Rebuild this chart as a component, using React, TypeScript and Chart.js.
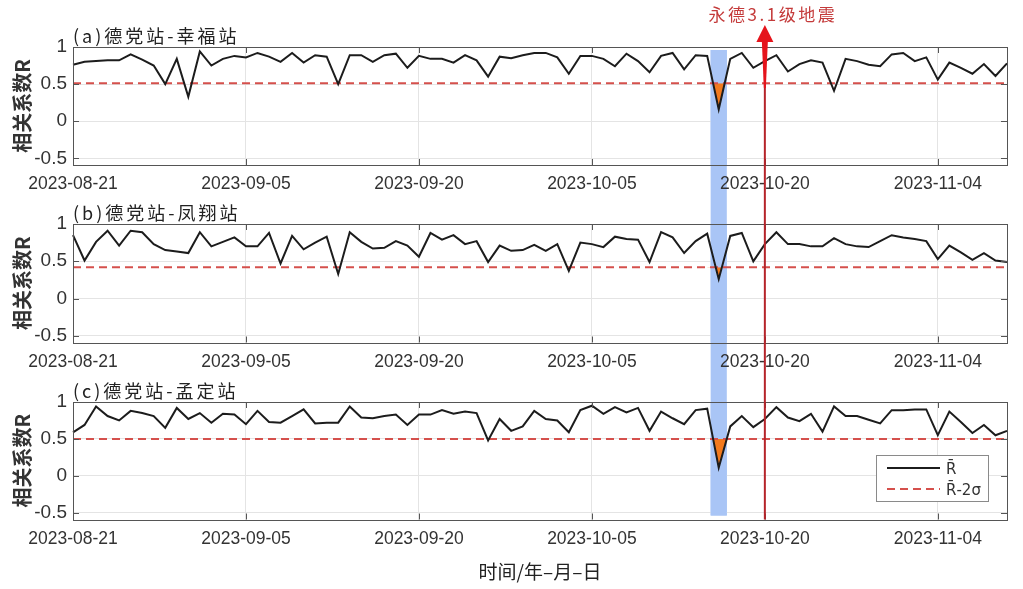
import React, { useEffect, useRef } from 'react';
import { Chart, registerables } from 'chart.js';

Chart.register(...registerables);

// ---------------- data ----------------
const START_DATE = '2023-08-21';
const DAY_COUNT = 82;

function buildDates(start: string, n: number): string[] {
  const [y, m, d] = start.split('-').map(Number);
  const out: string[] = [];
  for (let i = 0; i < n; i++) {
    out.push(new Date(Date.UTC(y, m - 1, d + i)).toISOString().slice(0, 10));
  }
  return out;
}
const dates = buildDates(START_DATE, DAY_COUNT);

const xTickLabels = ['2023-08-21', '2023-09-05', '2023-09-20', '2023-10-05', '2023-10-20', '2023-11-04'];
const yTicks = [-0.5, 0, 0.5, 1];
const Y_MIN = -0.59;
const Y_MAX = 1;

const panelTitles = ['(a)德党站-幸福站', '(b)德党站-凤翔站', '(c)德党站-孟定站'];

const seriesA = [
  0.76, 0.80, 0.81, 0.82, 0.82, 0.90, 0.83, 0.75, 0.50, 0.84,
  0.33, 0.94, 0.75, 0.84, 0.88, 0.86, 0.92, 0.87, 0.80, 0.92,
  0.79, 0.89, 0.87, 0.50, 0.89, 0.89, 0.80, 0.89, 0.91, 0.72,
  0.88, 0.84, 0.84, 0.79, 0.89, 0.82, 0.60, 0.87, 0.85, 0.89,
  0.92, 0.92, 0.86, 0.64, 0.88, 0.88, 0.84, 0.74, 0.91, 0.81,
  0.66, 0.88, 0.92, 0.70, 0.89, 0.88, 0.16, 0.84, 0.92, 0.72,
  0.81, 0.89, 0.67, 0.77, 0.82, 0.79, 0.41, 0.84, 0.81, 0.76,
  0.74, 0.90, 0.92, 0.81, 0.86, 0.56, 0.79, 0.72, 0.64, 0.77,
  0.61, 0.78,
];
const seriesB = [
  0.85, 0.51, 0.76, 0.91, 0.71, 0.91, 0.89, 0.73, 0.65, 0.63,
  0.61, 0.89, 0.70, 0.76, 0.82, 0.70, 0.70, 0.88, 0.47, 0.84,
  0.66, 0.75, 0.83, 0.33, 0.89, 0.76, 0.67, 0.68, 0.77, 0.71,
  0.56, 0.88, 0.79, 0.85, 0.73, 0.77, 0.49, 0.71, 0.64, 0.65,
  0.72, 0.64, 0.73, 0.37, 0.75, 0.73, 0.69, 0.83, 0.80, 0.79,
  0.49, 0.89, 0.82, 0.61, 0.77, 0.87, 0.26, 0.84, 0.88, 0.50,
  0.73, 0.89, 0.73, 0.73, 0.70, 0.70, 0.81, 0.73, 0.70, 0.69,
  0.77, 0.85, 0.82, 0.80, 0.77, 0.53, 0.71, 0.62, 0.52, 0.61,
  0.51, 0.49,
];
const seriesC = [
  0.59, 0.69, 0.94, 0.81, 0.75, 0.88, 0.85, 0.81, 0.65, 0.92,
  0.77, 0.85, 0.72, 0.84, 0.83, 0.70, 0.88, 0.73, 0.72, 0.81,
  0.90, 0.71, 0.72, 0.72, 0.94, 0.79, 0.78, 0.81, 0.83, 0.69,
  0.83, 0.83, 0.89, 0.84, 0.87, 0.85, 0.48, 0.77, 0.61, 0.67,
  0.88, 0.77, 0.75, 0.59, 0.89, 0.95, 0.84, 0.93, 0.86, 0.92,
  0.61, 0.87, 0.78, 0.70, 0.89, 0.91, 0.11, 0.67, 0.81, 0.66,
  0.77, 0.93, 0.79, 0.74, 0.84, 0.60, 0.94, 0.81, 0.81, 0.76,
  0.71, 0.89, 0.89, 0.90, 0.90, 0.55, 0.87, 0.73, 0.58, 0.69,
  0.55, 0.61,
];
const seriesList = [seriesA, seriesB, seriesC];
const thresholds = [0.51, 0.42, 0.50];

const anomalyDates = ['2023-10-15', '2023-10-16', '2023-10-17'];
const bandCenterDate = '2023-10-16';
const BAND_HALF_DAYS = 0.7;
const quakeDate = '2023-10-20';
const quakeLabel = '永德3.1级地震';
const yAxisTitle = '相关系数R';
const xAxisTitle = '时间/年–月–日';
const legendLabels = ['R\u0304', 'R\u0304-2σ'];

// ---------------- style / layout ----------------
const W = 1023;
const H = 589;
const PLOT_LEFT = 73;
const PLOT_RIGHT = 1007;
const PANEL_TOP = [47, 224, 402];
const PANEL_BOTTOM = [165, 342.5, 519.5];
const XAXIS_H = [30, 30, 64];
const BAND_STRIP = [[50, 195], [195, 372], [372, 515.5]];

const LATIN = "'Liberation Sans', Arial, sans-serif";
const LEGEND_FONT = "'DejaVu Sans', 'Liberation Sans', sans-serif";
const CJK = "'Noto Sans CJK SC', 'Noto Sans', sans-serif";
const LINE_COLOR = '#1c1c1c';
const DASH_COLOR = '#d5504c';
const ORANGE = '#f27a1e';
const BAND_COLOR = '#a9c5f6';
const GRID_COLOR = '#e4e4e4';
const BOX_COLOR = '#555555';
const TICK_COLOR = '#333333';
const QUAKE_LINE = '#b5242a';
const QUAKE_ARROW = '#e5141c';
const QUAKE_TEXT = '#c43a3a';

const isMajor = (i: number) => xTickLabels.includes(dates[i]);

function bandPixels(chart: any): [number, number] {
  const xs = chart.scales.x;
  const c = xs.getPixelForValue(dates.indexOf(bandCenterDate));
  const perDay = xs.getPixelForValue(1) - xs.getPixelForValue(0);
  return [c - BAND_HALF_DAYS * perDay, c + BAND_HALF_DAYS * perDay];
}

function panelPlugin(p: number) {
  return {
    id: 'panelDecor' + p,
    beforeDraw(chart: any) {
      const ctx = chart.ctx;
      const [x0, x1] = bandPixels(chart);
      const [s0, s1] = BAND_STRIP[p];
      ctx.save();
      ctx.fillStyle = BAND_COLOR;
      ctx.fillRect(x0, s0, x1 - x0, s1 - s0);
      ctx.restore();
    },
    beforeDatasetsDraw(chart: any) {
      const ctx = chart.ctx;
      const a = chart.chartArea;
      const [x0, x1] = bandPixels(chart);
      const [s0, s1] = BAND_STRIP[p];
      const t = Math.max(s0, a.top);
      const b = Math.min(s1, a.bottom);
      if (b > t) {
        ctx.save();
        ctx.fillStyle = BAND_COLOR;
        ctx.fillRect(x0, t, x1 - x0, b - t);
        ctx.restore();
      }
    },
    afterDatasetsDraw(chart: any) {
      const ctx = chart.ctx;
      const a = chart.chartArea;
      const xs = chart.scales.x;
      const ys = chart.scales.y;
      ctx.save();
      // box
      ctx.strokeStyle = BOX_COLOR;
      ctx.lineWidth = 1;
      ctx.strokeRect(Math.round(a.left) + 0.5, Math.round(a.top) + 0.5, Math.round(a.right - a.left), Math.round(a.bottom - a.top));
      // inward ticks
      const TL = 6;
      ctx.beginPath();
      dates.forEach((d, i) => {
        if (!isMajor(i)) return;
        const x = Math.round(xs.getPixelForValue(i)) + 0.5;
        ctx.moveTo(x, a.bottom);
        ctx.lineTo(x, a.bottom - TL);
        ctx.moveTo(x, a.top);
        ctx.lineTo(x, a.top + TL);
      });
      yTicks.forEach((v) => {
        const y = Math.round(ys.getPixelForValue(v)) + 0.5;
        ctx.moveTo(a.left, y);
        ctx.lineTo(a.left + TL, y);
        ctx.moveTo(a.right, y);
        ctx.lineTo(a.right - TL, y);
      });
      ctx.stroke();
      // panel title
      ctx.fillStyle = '#222';
      ctx.font = `18px ${CJK}`;
      (ctx as any).letterSpacing = '3px';
      ctx.textAlign = 'left';
      ctx.textBaseline = 'middle';
      ctx.fillText(panelTitles[p], a.left, a.top - 11);
      ctx.restore();
    },
    afterDraw(chart: any) {
      if (p !== 2) return;
      const ctx = chart.ctx;
      const a = chart.chartArea;
      const xs = chart.scales.x;
      ctx.save();
      // legend
      const lx0 = 876.5, ly0 = 455.5, lw = 112, lh = 46;
      ctx.fillStyle = '#ffffff';
      ctx.fillRect(lx0, ly0, lw, lh);
      ctx.strokeStyle = '#8a8a8a';
      ctx.lineWidth = 1;
      ctx.strokeRect(lx0, ly0, lw, lh);
      const rows = [468, 489];
      ctx.lineWidth = 2;
      ctx.strokeStyle = LINE_COLOR;
      ctx.setLineDash([]);
      ctx.beginPath();
      ctx.moveTo(887, rows[0]);
      ctx.lineTo(940, rows[0]);
      ctx.stroke();
      ctx.strokeStyle = DASH_COLOR;
      ctx.setLineDash([8, 5]);
      ctx.beginPath();
      ctx.moveTo(887, rows[1]);
      ctx.lineTo(940, rows[1]);
      ctx.stroke();
      ctx.setLineDash([]);
      ctx.fillStyle = TICK_COLOR;
      ctx.font = `15px ${LEGEND_FONT}`;
      ctx.textAlign = 'left';
      ctx.textBaseline = 'middle';
      ctx.fillText(legendLabels[0], 946, rows[0] + 2);
      ctx.fillText(legendLabels[1], 946, rows[1] + 2);

      // earthquake marker
      const qx = xs.getPixelForValue(dates.indexOf(quakeDate));
      ctx.strokeStyle = QUAKE_LINE;
      ctx.lineWidth = 2;
      ctx.beginPath();
      ctx.moveTo(qx, 42);
      ctx.lineTo(qx, a.bottom);
      ctx.stroke();
      // tapered shaft
      ctx.fillStyle = QUAKE_ARROW;
      ctx.beginPath();
      ctx.moveTo(qx - 3, 41);
      ctx.lineTo(qx + 3, 41);
      ctx.lineTo(qx + 1, 88);
      ctx.lineTo(qx - 1, 88);
      ctx.closePath();
      ctx.fill();
      // head
      ctx.beginPath();
      ctx.moveTo(qx, 25);
      ctx.lineTo(qx + 8.5, 42);
      ctx.lineTo(qx - 8.5, 42);
      ctx.closePath();
      ctx.fill();
      // label
      ctx.fillStyle = QUAKE_TEXT;
      ctx.font = `17px ${CJK}`;
      (ctx as any).letterSpacing = '2.5px';
      ctx.textAlign = 'center';
      ctx.textBaseline = 'middle';
      ctx.fillText(quakeLabel, qx + 8, 15);
      ctx.restore();
    },
  };
}

function makeConfig(p: number): any {
  const series = seriesList[p];
  const thr = thresholds[p];
  return {
    type: 'line',
    data: {
      labels: dates,
      datasets: [
        {
          label: legendLabels[0],
          data: series,
          borderColor: LINE_COLOR,
          borderWidth: 2,
          pointRadius: 0,
          tension: 0,
          fill: false,
          order: 0,
        },
        {
          label: legendLabels[1],
          data: dates.map(() => thr),
          borderColor: DASH_COLOR,
          borderDash: [8, 5],
          borderWidth: 2,
          pointRadius: 0,
          fill: false,
          order: 1,
        },
        {
          label: 'anomaly',
          data: series.map((v, i) => (anomalyDates.includes(dates[i]) ? v : null)),
          borderColor: 'rgba(0,0,0,0)',
          borderWidth: 0,
          pointRadius: 0,
          spanGaps: false,
          fill: { target: { value: thr }, above: 'rgba(0,0,0,0)', below: ORANGE },
          order: 2,
        },
      ],
    },
    options: {
      responsive: false,
      animation: false,
      devicePixelRatio: 1,
      layout: {
        padding: {
          left: 0,
          right: W - PLOT_RIGHT,
          top: PANEL_TOP[p],
          bottom: H - PANEL_BOTTOM[p] - XAXIS_H[p],
        },
      },
      plugins: {
        legend: { display: false },
        tooltip: { enabled: false },
        title: { display: false },
      },
      scales: {
        x: {
          type: 'category',
          afterFit: (s: any) => {
            s.height = XAXIS_H[p];
          },
          grid: {
            color: (c: any) => (isMajor(c.index) ? GRID_COLOR : 'rgba(0,0,0,0)'),
            drawTicks: false,
          },
          border: { display: false },
          ticks: {
            autoSkip: false,
            maxRotation: 0,
            minRotation: 0,
            padding: 9,
            color: TICK_COLOR,
            font: { family: LATIN, size: 17.5 },
            callback: (_v: any, i: number) => (isMajor(i) ? dates[i] : ''),
          },
          title:
            p === 2
              ? {
                  display: true,
                  text: xAxisTitle,
                  color: '#222',
                  font: { family: CJK, size: 19 },
                  padding: { top: 0, bottom: 0 },
                }
              : { display: false },
        },
        y: {
          min: Y_MIN,
          max: Y_MAX,
          afterFit: (s: any) => {
            s.width = PLOT_LEFT;
          },
          afterBuildTicks: (s: any) => {
            s.ticks = yTicks.map((v) => ({ value: v }));
          },
          grid: { color: GRID_COLOR, drawTicks: false },
          border: { display: false },
          ticks: {
            padding: 6,
            color: TICK_COLOR,
            font: { family: LATIN, size: 19 },
            callback: (v: any) => String(v),
          },
          title: {
            display: true,
            text: yAxisTitle,
            color: '#333',
            font: { family: CJK, size: 20, weight: 'bold' },
            padding: { top: 10, bottom: 0 },
          },
        },
      },
    },
    plugins: [panelPlugin(p)],
  };
}

export default function App() {
  const r0 = useRef<HTMLCanvasElement>(null);
  const r1 = useRef<HTMLCanvasElement>(null);
  const r2 = useRef<HTMLCanvasElement>(null);

  useEffect(() => {
    const refs = [r0, r1, r2];
    const charts = refs.map((r, p) => new Chart(r.current as HTMLCanvasElement, makeConfig(p)));
    return () => charts.forEach((c) => c.destroy());
  }, []);

  const canvasStyle: React.CSSProperties = { position: 'absolute', left: 0, top: 0 };
  return (
    <div style={{ position: 'absolute', left: 0, top: 0, width: W, height: H, background: '#ffffff' }}>
      <canvas ref={r0} width={W} height={H} style={canvasStyle} />
      <canvas ref={r1} width={W} height={H} style={canvasStyle} />
      <canvas ref={r2} width={W} height={H} style={canvasStyle} />
    </div>
  );
}
